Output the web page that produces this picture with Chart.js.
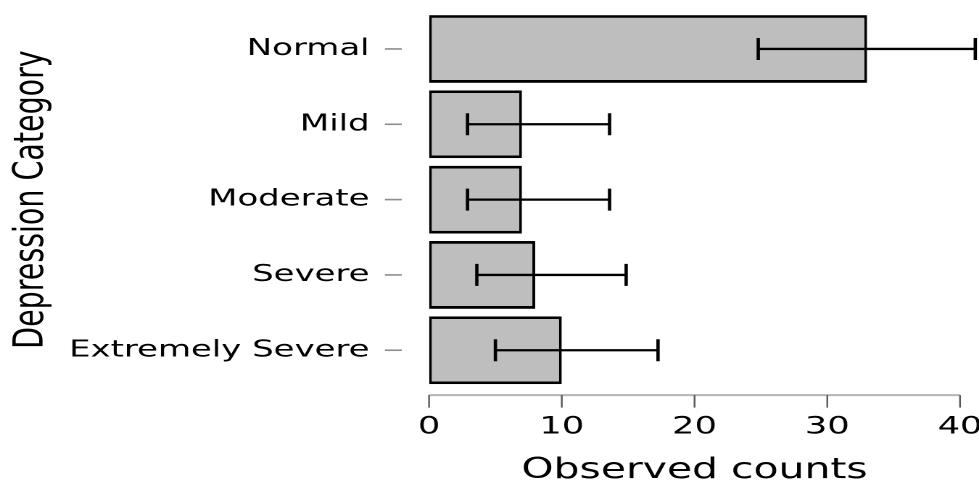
<!DOCTYPE html>
<html>
<head>
<meta charset="utf-8">
<script src="https://cdn.jsdelivr.net/npm/chart.js@4"></script>
<style>
  html, body { margin: 0; padding: 0; background: #fff; overflow: hidden; }
  /* the reference is a horizontally stretched plot, so draw narrow and stretch */
  #wrap { width: 675px; height: 485px; transform: scaleX(1.4504); transform-origin: 0 0; }
</style>
</head>
<body>
<div id="wrap"><canvas id="chart" width="675" height="485"></canvas></div>
<script>
const categories = ['Normal', 'Mild', 'Moderate', 'Severe', 'Extremely Severe'];
const counts = [33, 7, 7, 8, 10];
const lowerCI = [24.8, 2.9, 2.9, 3.6, 5.0];
const upperCI = [41.15, 13.6, 13.6, 14.85, 17.25];
const xTicks = [0, 10, 20, 30, 40];

const FONT = "'DejaVu Sans', sans-serif";

// R-style axes: detached x axis line and small category ticks, plus error bars
const axesAndErrors = {
  id: 'axesAndErrors',
  afterDatasetsDraw(chart) {
    const { ctx, chartArea, scales: { x, y } } = chart;
    ctx.save();

    // error bars
    ctx.strokeStyle = '#000';
    categories.forEach((c, i) => {
      const cy = y.getPixelForValue(i);
      const x1 = x.getPixelForValue(lowerCI[i]);
      const x2 = x.getPixelForValue(upperCI[i]);
      ctx.lineWidth = 2.3;
      ctx.beginPath();
      ctx.moveTo(x1, cy);
      ctx.lineTo(x2, cy);
      ctx.stroke();
      ctx.lineWidth = 2.3;
      ctx.beginPath();
      ctx.moveTo(x1, cy - 11);
      ctx.lineTo(x1, cy + 11);
      ctx.moveTo(x2, cy - 11);
      ctx.lineTo(x2, cy + 11);
      ctx.stroke();
    });

    // category ticks
    ctx.strokeStyle = '#8c8c8c';
    ctx.lineWidth = 1.6;
    categories.forEach((c, i) => {
      const cy = y.getPixelForValue(i);
      ctx.beginPath();
      ctx.moveTo(chartArea.left - 30.4, cy);
      ctx.lineTo(chartArea.left - 18.8, cy);
      ctx.stroke();
    });

    // x axis line and ticks
    const ay = chartArea.bottom + 7.2;
    ctx.strokeStyle = '#b4b4b4';
    ctx.lineWidth = 2;
    ctx.beginPath();
    ctx.moveTo(x.getPixelForValue(xTicks[0]), ay);
    ctx.lineTo(x.getPixelForValue(xTicks[xTicks.length - 1]), ay);
    ctx.stroke();
    ctx.strokeStyle = '#555';
    ctx.lineWidth = 1.2;
    xTicks.forEach(t => {
      const px = x.getPixelForValue(t);
      ctx.beginPath();
      ctx.moveTo(px, ay);
      ctx.lineTo(px, ay + 12.5);
      ctx.stroke();
    });

    ctx.restore();
  },
};

new Chart(document.getElementById('chart'), {
  type: 'bar',
  data: {
    labels: categories,
    datasets: [{
      data: counts,
      backgroundColor: '#bebebe',
      borderColor: '#000',
      borderWidth: { top: 2.8, bottom: 2.8, left: 2, right: 2 },
      borderSkipped: false,
      categoryPercentage: 1,
      barPercentage: 0.9,
    }],
  },
  options: {
    indexAxis: 'y',
    responsive: false,
    maintainAspectRatio: false,
    devicePixelRatio: 2,
    animation: false,
    layout: { padding: { left: 0, right: 13.1, top: 11.3, bottom: 0 } },
    plugins: {
      legend: { display: false },
      tooltip: { enabled: false },
    },
    scales: {
      x: {
        type: 'linear',
        min: 0,
        max: 40,
        afterFit: s => { s.height = 97.1; s.paddingLeft = 0; s.paddingRight = 0; },
        afterBuildTicks: s => { s.ticks = xTicks.map(v => ({ value: v })); },
        grid: { display: false, drawTicks: false },
        border: { display: false },
        ticks: { color: '#000', padding: 27, font: { family: FONT, size: 24.3, lineHeight: 1 } },
        title: {
          display: true,
          text: 'Observed counts',
          color: '#000',
          padding: 0,
          font: { family: FONT, size: 28.2, lineHeight: 1 },
        },
      },
      y: {
        afterFit: s => { s.width = 295.8; s.paddingTop = 0; s.paddingBottom = 0; },
        grid: { display: false, drawTicks: false },
        border: { display: false },
        ticks: { color: '#000', padding: 41, font: { family: FONT, size: 23.4 } },
        title: {
          display: true,
          text: 'Depression Category',
          color: '#000',
          padding: { top: 5, bottom: 0 },
          font: { family: FONT, size: 28.5, lineHeight: 1.2 },
        },
      },
    },
  },
  plugins: [axesAndErrors],
});
</script>
</body>
</html>
